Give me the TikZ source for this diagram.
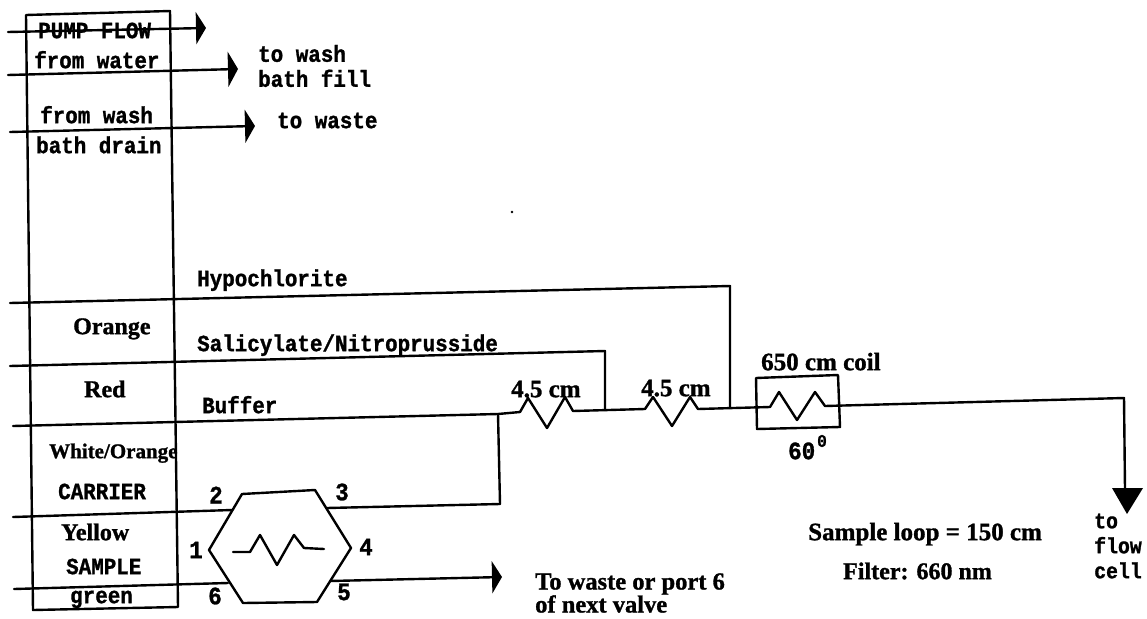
\documentclass[tikz,border=0pt]{standalone}
\usepackage{fontspec}
\usetikzlibrary{arrows.meta}
\newfontfamily\dmfont[FakeStretch=0.9,BoldFeatures={FakeBold=1.2,FakeStretch=0.9}]{Liberation Mono}
\newfontfamily\bsfont[BoldFeatures={FakeBold=1.2}]{Liberation Serif}
\tikzset{
  ln/.style={line width=2.4pt,black,line cap=round,line join=round},
  arr/.style={ln,-{Triangle[width=#1,length=10pt]}},
  arr/.default=32pt,
  dm/.style={font=\dmfont\bfseries\fontsize{23.2}{25}\selectfont,inner sep=0pt,anchor=mid west,align=left},
  bs/.style={font=\bsfont\bfseries\fontsize{25}{25}\selectfont,inner sep=0pt,anchor=mid west,align=left},
  dg/.style={font=\dmfont\bfseries\fontsize{25}{25}\selectfont,inner sep=0pt},
}
\begin{document}
\begin{tikzpicture}[x=1pt,y=-1pt]
\useasboundingbox (0,0) rectangle (1147,618);
% pump box
\coordinate (bA) at (26,15); \coordinate (bB) at (170,11);
\coordinate (bC) at (178,607); \coordinate (bD) at (33,610);
\draw[ln] (bA) -- (bB) -- (bC) -- (bD) -- cycle;
% top lines
\coordinate (a1) at (8,32); \coordinate (a2) at (206,28);
\coordinate (c1) at (8,75); \coordinate (c2) at (238,69);
\coordinate (d1) at (10,132); \coordinate (d2) at (255,126);
\draw[arr] (a1) -- (a2);
\draw[arr=35pt] (c1) -- (c2);
\draw[arr=33pt] (d1) -- (d2);
% reagent lines
\coordinate (h1) at (10,303); \coordinate (h2) at (730,286); \coordinate (h3) at (730,408);
\coordinate (s1) at (10,366); \coordinate (s2) at (605,351); \coordinate (s3) at (605,410);
\coordinate (u1) at (13,426); \coordinate (u2) at (498,414); \coordinate (u3) at (500,504);
\draw[ln] (h1) -- (h2) -- (h3);
\draw[ln] (s1) -- (s2) -- (s3);
% main line with coils
\coordinate (m0) at (520,412);
\coordinate (m1) at (573,411);
\coordinate (m2) at (645,409);
\coordinate (m3) at (698,409);
\coordinate (m4) at (770,407);
\coordinate (m5) at (825,406);
\coordinate (m6) at (1124,398);
\coordinate (m8) at (1125,490);
\coordinate (m7) at (1127,514);
\draw[ln] (u1) -- (u2) -- (m0) -- (528,398) -- (547,428) -- (565,397) -- (m1) -- (m2)
  -- (653,397) -- (672,426) -- (690,397) -- (m3) -- (m4)
  -- (779,392) -- (797,420) -- (815,392) -- (m5) -- (m6) -- (m8);
\fill (1112,488) -- (1143,488) -- (m7) -- cycle;
\draw[ln] (u2) -- (u3);
% coil box
\coordinate (k1) at (756,378); \coordinate (k2) at (838,375);
\coordinate (k3) at (840,427); \coordinate (k4) at (757,429);
\draw[ln] (k1) -- (k2) -- (k3) -- (k4) -- cycle;
% valve
\coordinate (v1) at (209,550); \coordinate (v2) at (242,494); \coordinate (v3) at (315,490);
\coordinate (v4) at (351,548); \coordinate (v5) at (317,602); \coordinate (v6) at (243,603);
\draw[ln] (v1) -- (v2) -- (v3) -- (v4) -- (v5) -- (v6) -- cycle;
\draw[ln] (233,552) -- (250,552) -- (260,535) -- (277,565) -- (294,535) -- (304,548) -- (324,549);
\coordinate (p2a) at (13,517); \coordinate (p2b) at (232,510);
\coordinate (p3) at (327,508);
\coordinate (p6a) at (14,589); \coordinate (p6b) at (228,583);
\coordinate (p5) at (330,581); \coordinate (p5e) at (502,577);
\draw[ln] (p2a) -- (p2b);
\draw[ln] (p3) -- (u3);
\draw[ln] (p6a) -- (p6b);
\draw[arr] (p5) -- (p5e);
\fill (512,212) circle (1.3pt);
% dot-matrix labels
\node[dm] (t1) at (38,36) {PUMP FLOW};
\node[dm] (t2) at (34,66) {from water};
\node[dm,anchor=west] (t3) at (258,66) {to wash\\bath fill};
\node[dm] (t4) at (40,121) {from wash};
\node[dm] (t5) at (36,151) {bath drain};
\node[dm] (t6) at (277,126) {to waste};
\node[dm] (t7) at (197,284) {Hypochlorite};
\node[dm] (t8) at (197,349) {Salicylate/Nitroprusside};
\node[dm] (t9) at (202,411) {Buffer};
\node[dm] (t10) at (58,497) {CARRIER};
\node[dm] (t11) at (66,572) {SAMPLE};
\node[dm] (t12) at (70,601) {green};
\node[dm,anchor=west,font=\dmfont\bfseries\fontsize{22}{25}\selectfont] (t13) at (1094,546) {to\\flow\\cell};
\node[dm,font=\dmfont\bfseries\fontsize{25}{25}\selectfont] (t14) at (788,457) {60};
\node[font=\dmfont\bfseries\fontsize{18}{18}\selectfont,inner sep=0pt] (t15) at (822,441) {0};
\node[dg] (n1) at (196,550) {1};
\node[dg] (n2) at (216,495) {2};
\node[dg] (n3) at (342,492) {3};
\node[dg] (n4) at (366,547) {4};
\node[dg] (n5) at (344,592) {5};
\node[dg] (n6) at (215,596) {6};
% bold serif labels
\node[bs,font=\bsfont\bfseries\fontsize{24}{24}\selectfont] (b1) at (73,332) {Orange};
\node[bs,font=\bsfont\bfseries\fontsize{24}{24}\selectfont] (b2) at (84,395) {Red};
\node[bs,font=\bsfont\bfseries\fontsize{21}{21}\selectfont] (b3) at (49,456) {White/Orange};
\node[bs,font=\bsfont\bfseries\fontsize{24}{24}\selectfont] (b4) at (61,538) {Yellow};
\node[bs] (b5) at (511,395) {4.5 cm};
\node[bs] (b6) at (641,394) {4.5 cm};
\node[bs] (b7) at (761,368) {650 cm coil};
\node[bs] (b8) at (808,538) {Sample loop = 150 cm};
\node[bs,font=\bsfont\bfseries\fontsize{24}{24}\selectfont] (b9) at (843,577) {Filter: 660 nm};
\node[bs,anchor=west,font=\bsfont\bfseries\fontsize{24.5}{23}\selectfont] (b10) at (535,593) {To waste or port 6\\of next valve};
\end{tikzpicture}
\end{document}
